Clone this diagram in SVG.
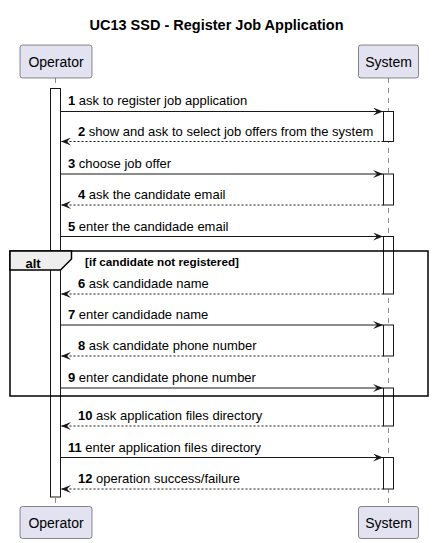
<svg xmlns="http://www.w3.org/2000/svg" width="433" height="543" viewBox="0 0 433 543">
<defs>
<style>
.title{font-family:"Liberation Sans",Arial,sans-serif;font-size:14.5px;font-weight:bold;fill:#000}
.pbox{fill:#E2E2F0;stroke:#181818;stroke-width:0.5}
.ptxt{font-family:"Liberation Sans",Arial,sans-serif;font-size:14px;fill:#000}
.life{stroke:#181818;stroke-width:0.5;stroke-dasharray:5,5;fill:none}
.act{fill:#FFFFFF;stroke:#181818;stroke-width:1}
.msg{stroke:#181818;stroke-width:1;fill:none}
.ret{stroke:#181818;stroke-width:1;stroke-dasharray:2,2;fill:none}
.mtxt{font-family:"Liberation Sans",Arial,sans-serif;font-size:13px;fill:#000}
.num{font-weight:bold}
.frame{fill:none;stroke:#000;stroke-width:1.5}
.tab{fill:#EEEEEE;stroke:#000;stroke-width:1.5}
.alt{font-family:"Liberation Sans",Arial,sans-serif;font-size:13px;font-weight:bold;fill:#000}
.guard{font-family:"Liberation Sans",Arial,sans-serif;font-size:11.7px;font-weight:bold;fill:#000}
</style>
<marker id="ah" viewBox="0 0 10 8" refX="10" refY="4" markerWidth="10" markerHeight="8" markerUnits="userSpaceOnUse" orient="auto">
<path d="M0,0 L10,4 L0,8 L4,4 Z" fill="#181818"/>
</marker>
</defs>
<text class="title" x="216.5" y="30" text-anchor="middle">UC13 SSD - Register Job Application</text>
<g id="lifelines">
<line class="life" x1="55.5" y1="78" x2="55.5" y2="507"/>
<line class="life" x1="388.5" y1="78" x2="388.5" y2="507"/>
</g>
<g id="operator">
<rect class="pbox" x="20" y="45" width="72" height="33" rx="2.5"/>
<text class="ptxt" x="56" y="66.5" text-anchor="middle">Operator</text>
<rect class="pbox" x="20" y="506.5" width="72" height="32" rx="2.5"/>
<text class="ptxt" x="56" y="527.5" text-anchor="middle">Operator</text>
<rect class="act" x="50.5" y="88.5" width="10" height="408.5"/>
</g>
<g id="system">
<rect class="pbox" x="358.5" y="45" width="60" height="33" rx="2.5"/>
<text class="ptxt" x="388.5" y="66.5" text-anchor="middle">System</text>
<rect class="pbox" x="358.5" y="506.5" width="60" height="32" rx="2.5"/>
<text class="ptxt" x="388.5" y="527.5" text-anchor="middle">System</text>
<rect class="act" x="383.5" y="111.5" width="10" height="30"/>
<rect class="act" x="383.5" y="174" width="10" height="31"/>
<rect class="act" x="383.5" y="236.5" width="10" height="57.5"/>
<rect class="act" x="383.5" y="325" width="10" height="31"/>
<rect class="act" x="383.5" y="388" width="10" height="38"/>
<rect class="act" x="383.5" y="457.5" width="10" height="31.5"/>
</g>
<g id="alt-frame">
<rect class="frame" x="10" y="251" width="418" height="145"/>
<path class="tab" d="M10,251 L71.5,251 L71.5,259 L60.5,270 L10,270 Z"/>
<text class="alt" x="25.5" y="268">alt</text>
<text class="guard" x="85" y="266">[if candidate not registered]</text>
</g>
<g id="connectors">
<line class="msg" x1="60.5" y1="111.5" x2="383" y2="111.5" marker-end="url(#ah)"/>
<line class="ret" x1="383.5" y1="141.5" x2="61" y2="141.5" marker-end="url(#ah)"/>
<line class="msg" x1="60.5" y1="174" x2="383" y2="174" marker-end="url(#ah)"/>
<line class="ret" x1="383.5" y1="205" x2="61" y2="205" marker-end="url(#ah)"/>
<line class="msg" x1="60.5" y1="236.5" x2="383" y2="236.5" marker-end="url(#ah)"/>
<line class="ret" x1="383.5" y1="294" x2="61" y2="294" marker-end="url(#ah)"/>
<line class="msg" x1="60.5" y1="325" x2="383" y2="325" marker-end="url(#ah)"/>
<line class="ret" x1="383.5" y1="356" x2="61" y2="356" marker-end="url(#ah)"/>
<line class="msg" x1="60.5" y1="388" x2="383" y2="388" marker-end="url(#ah)"/>
<line class="ret" x1="383.5" y1="426" x2="61" y2="426" marker-end="url(#ah)"/>
<line class="msg" x1="60.5" y1="457.5" x2="383" y2="457.5" marker-end="url(#ah)"/>
<line class="ret" x1="383.5" y1="489" x2="61" y2="489" marker-end="url(#ah)"/>
</g>
<g id="labels">
<text class="mtxt" x="68" y="105"><tspan class="num">1</tspan> ask to register job application</text>
<text class="mtxt" x="78" y="135.5"><tspan class="num">2</tspan> show and ask to select job offers from the system</text>
<text class="mtxt" x="68" y="168"><tspan class="num">3</tspan> choose job offer</text>
<text class="mtxt" x="78" y="199"><tspan class="num">4</tspan> ask the candidate email</text>
<text class="mtxt" x="68" y="230.5"><tspan class="num">5</tspan> enter the candidade email</text>
<text class="mtxt" x="78" y="288"><tspan class="num">6</tspan> ask candidade name</text>
<text class="mtxt" x="68" y="319"><tspan class="num">7</tspan> enter candidade name</text>
<text class="mtxt" x="78" y="350"><tspan class="num">8</tspan> ask candidate phone number</text>
<text class="mtxt" x="68" y="382"><tspan class="num">9</tspan> enter candidate phone number</text>
<text class="mtxt" x="78" y="420"><tspan class="num">10</tspan> ask application files directory</text>
<text class="mtxt" x="68" y="451.5"><tspan class="num">11</tspan> enter application files directory</text>
<text class="mtxt" x="78" y="483"><tspan class="num">12</tspan> operation success/failure</text>
</g>
</svg>
